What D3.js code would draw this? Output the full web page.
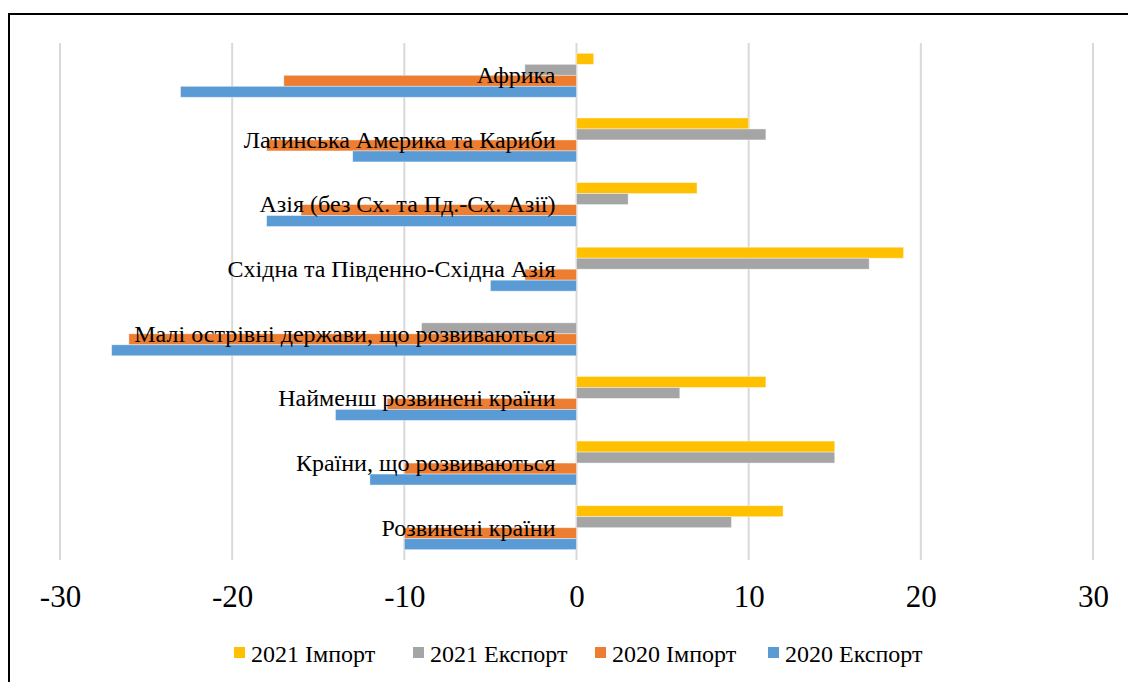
<!DOCTYPE html>
<html>
<head>
<meta charset="utf-8">
<script src="https://cdn.jsdelivr.net/npm/d3@7"></script>
<style>
  html, body { margin: 0; padding: 0; background: #fff; overflow: hidden; }
  svg text { font-family: "Liberation Serif", "Times New Roman", Times, "DejaVu Serif", serif; }
</style>
</head>
<body>
<div id="chart"></div>
<script>
// regions, top to bottom as drawn
const categories = [
  "Африка",
  "Латинська Америка та Кариби",
  "Азія (без Сх. та Пд.-Сх. Азії)",
  "Східна та Південно-Східна Азія",
  "Малі острівні держави, що розвиваються",
  "Найменш розвинені країни",
  "Країни, що розвиваються",
  "Розвинені країни"
];
const seriesNames = ["2021 Імпорт", "2021 Експорт", "2020 Імпорт", "2020 Експорт"];
const import2021 = [1, 10, 7, 19, 0, 11, 15, 12];
const export2021 = [-3, 11, 3, 17, -9, 6, 15, 9];
const import2020 = [-17, -18, -16, -3, -26, -11, -10, -10];
const export2020 = [-23, -13, -18, -5, -27, -14, -12, -10];
const tickValues = [-30, -20, -10, 0, 10, 20, 30];

const colors = ["#FFC000", "#A5A5A5", "#ED7D31", "#5B9BD5"];
const seriesValues = [import2021, export2021, import2020, export2020];

const width = 1128, height = 682;
const svg = d3.select("#chart").append("svg")
  .attr("width", width)
  .attr("height", height);

// chart frame (right and bottom edges fall outside the picture)
svg.append("rect")
  .attr("x", 9).attr("y", 14)
  .attr("width", 1300).attr("height", 900)
  .attr("fill", "#fff")
  .attr("stroke", "#000")
  .attr("stroke-width", 2);

const x = d3.scaleLinear().domain([-30, 30]).range([60, 1093]);
const y = d3.scaleBand().domain(categories).range([43, 560])
  .paddingInner(0.32).paddingOuter(0.16);
const ySub = d3.scaleBand().domain(seriesNames).range([0, y.bandwidth()]);

// gridlines
svg.append("g")
  .selectAll("line")
  .data(tickValues)
  .enter().append("line")
  .attr("x1", d => x(d)).attr("x2", d => x(d))
  .attr("y1", 43).attr("y2", 560)
  .attr("stroke", "#D9D9D9")
  .attr("stroke-width", 2);

// bars
const rows = [];
categories.forEach((c, i) => {
  seriesNames.forEach((s, j) => {
    rows.push({ cat: c, series: s, value: seriesValues[j][i], color: colors[j] });
  });
});

svg.append("g")
  .selectAll("rect")
  .data(rows.filter(d => d.value !== 0))
  .enter().append("rect")
  .attr("x", d => x(Math.min(0, d.value)))
  .attr("y", d => y(d.cat) + ySub(d.series))
  .attr("width", d => Math.abs(x(d.value) - x(0)))
  .attr("height", ySub.bandwidth())
  .attr("fill", d => d.color)
  .attr("stroke", "#fff")
  .attr("stroke-opacity", 0.5)
  .attr("stroke-width", 0.8);

// category labels sit over the bars, right-aligned next to zero
svg.append("g")
  .selectAll("text")
  .data(categories)
  .enter().append("text")
  .attr("x", x(0) - 21)
  .attr("y", d => y(d) + y.bandwidth() / 2)
  .attr("dy", "0.33em")
  .attr("text-anchor", "end")
  .attr("font-size", 24)
  .attr("fill", "#000")
  .text(d => d);

// x axis tick labels
const axis = svg.append("g")
  .attr("transform", "translate(0,607)")
  .call(d3.axisBottom(x).tickValues(tickValues).tickSize(0).tickPadding(0).tickFormat(d => String(d)));
axis.attr("font-family", null);
axis.select(".domain").remove();
axis.selectAll("text")
  .attr("y", 0)
  .attr("dy", 0)
  .attr("font-size", 31)
  .attr("fill", "#000");

// legend
const legendX = [234, 413, 595, 768];
const legend = svg.append("g")
  .selectAll("g")
  .data(seriesNames)
  .enter().append("g")
  .attr("transform", (d, i) => "translate(" + legendX[i] + ",647)");

legend.append("rect")
  .attr("width", 11).attr("height", 11)
  .attr("fill", (d, i) => colors[i]);

legend.append("text")
  .attr("x", 17)
  .attr("y", 15)
  .attr("font-size", 24)
  .attr("fill", "#000")
  .text(d => d);
</script>
</body>
</html>
